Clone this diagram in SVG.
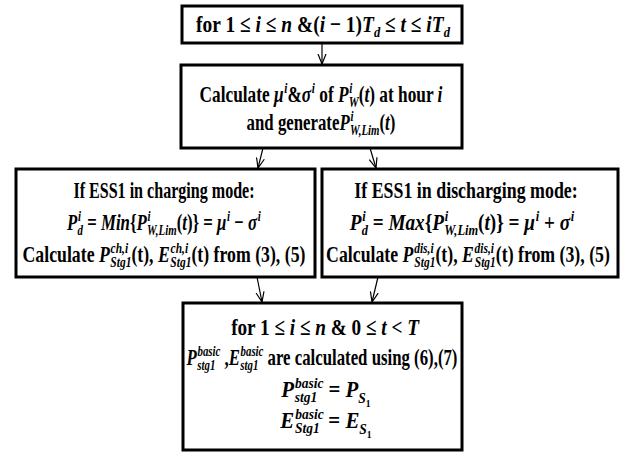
<svg xmlns="http://www.w3.org/2000/svg" width="624" height="454" viewBox="0 0 624 454">
<style>
.b{fill:#fff;stroke:#000;stroke-width:3}
.t{font-family:"Liberation Serif","Times New Roman",serif;font-weight:bold;font-size:24px;fill:#000;text-anchor:middle}
.m{font-style:italic}
.s{font-size:15.5px}
.ss{font-size:11px}
.c line{stroke:#000;stroke-width:1.2;fill:none;marker-end:url(#a)}
</style>
<defs>
<marker id="a" viewBox="0 0 10 10" refX="10" refY="5" markerWidth="10" markerHeight="10" markerUnits="userSpaceOnUse" orient="auto">
<path d="M0,1 L10,5 L0,9" fill="none" stroke="#000" stroke-width="1.2"/>
</marker>
</defs>
<rect width="624" height="454" fill="#fff"/>
<g class="c">
<line x1="322" y1="43" x2="322" y2="64"/>
<line x1="263" y1="148" x2="258" y2="168"/>
<line x1="370" y1="148" x2="376" y2="168"/>
<line x1="257" y1="277" x2="262" y2="302"/>
<line x1="378" y1="277" x2="372" y2="302"/>
</g>
<g id="n1">
<rect class="b" x="182" y="6" width="280" height="37"/>
<text class="t" transform="translate(323,32) scale(0.81,1)">for 1 ≤ <tspan class="m">i</tspan> ≤ <tspan class="m">n</tspan> &amp;(<tspan class="m">i</tspan> − 1)<tspan class="m">T</tspan><tspan class="s m" dy="5">d</tspan><tspan dy="-5"> ≤ </tspan><tspan class="m">t</tspan> ≤ <tspan class="m">iT</tspan><tspan class="s m" dy="5">d</tspan></text>
</g>
<g id="n2">
<rect class="b" x="181" y="65" width="281" height="83"/>
<text class="t" transform="translate(321,102) scale(0.72,1)">Calculate <tspan class="m">μ</tspan><tspan class="s m" dx="1" dy="-9">i</tspan><tspan dy="9">&amp;</tspan><tspan class="m">σ</tspan><tspan class="s m" dx="1" dy="-9">i</tspan><tspan dy="9"> of </tspan><tspan class="m">P</tspan><tspan class="s m" dx="1" dy="-9">i</tspan><tspan class="s m" dx="-5" dy="14">W</tspan><tspan dy="-5">(</tspan><tspan class="m">t</tspan>) at hour <tspan class="m">i</tspan></text>
<text class="t" transform="translate(321,130) scale(0.70,1)">and generate<tspan class="m">P</tspan><tspan class="s m" dx="1" dy="-9">i</tspan><tspan class="s m" dx="-5" dy="14">W,Lim</tspan><tspan dy="-5">(</tspan><tspan class="m">t</tspan>)</text>
</g>
<g id="n3">
<rect class="b" x="16" y="169" width="299" height="108"/>
<text class="t" transform="translate(164,198) scale(0.67,1)">If ESS1 in charging mode:</text>
<text class="t" transform="translate(164,230) scale(0.70,1)"><tspan class="m">P</tspan><tspan class="s m" dx="1" dy="-9">i</tspan><tspan class="s m" dx="-5" dy="14">d</tspan><tspan dy="-5"> = </tspan><tspan class="m">Min</tspan>{<tspan class="m">P</tspan><tspan class="s m" dx="1" dy="-9">i</tspan><tspan class="s m" dx="-5" dy="14">W,Lim</tspan><tspan dy="-5">(</tspan><tspan class="m">t</tspan>)} = <tspan class="m">μ</tspan><tspan class="s m" dx="1" dy="-9">i</tspan><tspan dy="9"> − </tspan><tspan class="m">σ</tspan><tspan class="s m" dx="1" dy="-9">i</tspan></text>
<text class="t" transform="translate(164,262) scale(0.74,1)">Calculate <tspan class="m">P</tspan><tspan class="s m" dx="1" dy="-9">ch,i</tspan><tspan class="s m" dx="-24" dy="14">Stg1</tspan><tspan dy="-5">(t), </tspan><tspan class="m">E</tspan><tspan class="s m" dx="1" dy="-9">ch,i</tspan><tspan class="s m" dx="-24" dy="14">Stg1</tspan><tspan dy="-5">(t) from (3), (5)</tspan></text>
</g>
<g id="n4">
<rect class="b" x="322" y="169" width="296" height="108"/>
<text class="t" transform="translate(466,198) scale(0.745,1)">If ESS1 in discharging mode:</text>
<text class="t" transform="translate(462,230) scale(0.80,1)"><tspan class="m">P</tspan><tspan class="s m" dx="1" dy="-9">i</tspan><tspan class="s m" dx="-5" dy="14">d</tspan><tspan dy="-5"> = </tspan><tspan class="m">Max</tspan>{<tspan class="m">P</tspan><tspan class="s m" dx="1" dy="-9">i</tspan><tspan class="s m" dx="-5" dy="14">W,Lim</tspan><tspan dy="-5">(</tspan><tspan class="m">t</tspan>)} = <tspan class="m">μ</tspan><tspan class="s m" dx="1" dy="-9">i</tspan><tspan dy="9"> + </tspan><tspan class="m">σ</tspan><tspan class="s m" dx="1" dy="-9">i</tspan></text>
<text class="t" transform="translate(468,262) scale(0.74,1)">Calculate <tspan class="m">P</tspan><tspan class="s m" dx="1" dy="-9">dis,i</tspan><tspan class="s m" dx="-26" dy="14">Stg1</tspan><tspan dy="-5">(t), </tspan><tspan class="m">E</tspan><tspan class="s m" dx="1" dy="-9">dis,i</tspan><tspan class="s m" dx="-26" dy="14">Stg1</tspan><tspan dy="-5">(t) from (3), (5)</tspan></text>
</g>
<g id="n5">
<rect class="b" x="183" y="303" width="279" height="147"/>
<text class="t" transform="translate(325,335) scale(0.80,1)">for 1 ≤ <tspan class="m">i</tspan> ≤ <tspan class="m">n</tspan> &amp; 0 ≤ <tspan class="m">t</tspan> &lt; <tspan class="m">T</tspan></text>
<text class="t" transform="translate(322,365) scale(0.70,1)"><tspan class="m">P</tspan><tspan class="s m" dx="1" dy="-9">basic</tspan><tspan class="s m" dx="-33" dy="14">stg1</tspan><tspan dx="7" dy="-5"> ,</tspan><tspan class="m">E</tspan><tspan class="s m" dx="1" dy="-9">basic</tspan><tspan class="s m" dx="-33" dy="14">stg1</tspan><tspan dx="7" dy="-5"> are calculated using (6),(7)</tspan></text>
<text class="t" transform="translate(326,397) scale(0.87,1)"><tspan class="m">P</tspan><tspan class="s m" dx="1" dy="-9">basic</tspan><tspan class="s m" dx="-33" dy="14">stg1</tspan><tspan dx="7" dy="-5"> = </tspan><tspan class="m">P</tspan><tspan class="s m" dy="6">S</tspan><tspan class="ss" dy="4">1</tspan></text>
<text class="t" transform="translate(326,428) scale(0.87,1)"><tspan class="m">E</tspan><tspan class="s m" dx="1" dy="-9">basic</tspan><tspan class="s m" dx="-33" dy="14">Stg1</tspan><tspan dx="4" dy="-5"> = </tspan><tspan class="m">E</tspan><tspan class="s m" dy="6">S</tspan><tspan class="ss" dy="4">1</tspan></text>
</g>
</svg>
